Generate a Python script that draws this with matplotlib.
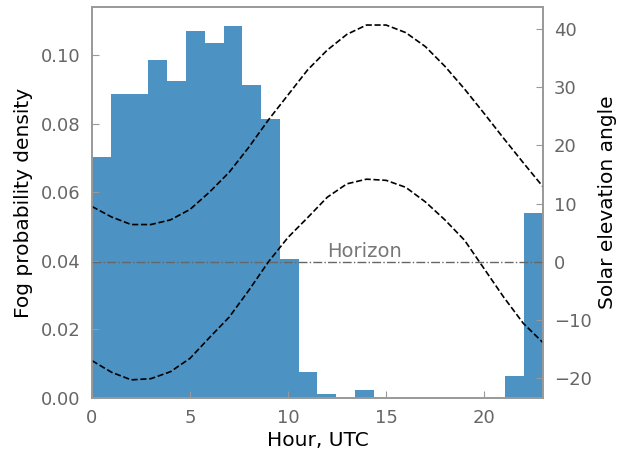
"""Fog probability density by hour, with solar elevation curves on a twin axis."""

import matplotlib

matplotlib.use("Agg")
import matplotlib.pyplot as plt
import numpy as np

# Histogram (density) over 24 equal bins spanning 0-23 h UTC
bin_edges = np.linspace(0, 23, 25)
fog_density = [
    0.0704, 0.0886, 0.0886, 0.0986, 0.0925, 0.1072, 0.1036, 0.1086,
    0.0912, 0.0814, 0.0406, 0.0074, 0.0011, 0.0000, 0.0023, 0.0000,
    0.0000, 0.0000, 0.0000, 0.0000, 0.0000, 0.0000, 0.0062, 0.0540,
]

# Solar elevation angle (degrees), hourly
hours = list(range(24))
elev_upper = [
    9.5, 7.7, 6.4, 6.4, 7.2, 9.0, 12.0, 15.4, 19.7, 24.4, 28.7, 33.0,
    36.4, 39.1, 40.7, 40.7, 39.4, 37.0, 33.6, 29.7, 25.5, 21.2, 17.0, 12.9,
]
elev_lower = [
    -17.0, -19.0, -20.3, -20.1, -18.9, -16.6, -13.0, -9.5, -4.9, 0.0, 4.2, 7.6,
    11.1, 13.4, 14.2, 14.0, 12.8, 10.3, 7.2, 3.7, -1.2, -6.1, -10.6, -13.9,
]

TICK_COLOR = "#666666"
SPINE_COLOR = "#999999"

fig = plt.figure(figsize=(6.19, 4.53), dpi=100)
ax = fig.add_axes([0.1486, 0.1223, 0.7286, 0.8616])

ax.bar(
    bin_edges[:-1],
    fog_density,
    width=np.diff(bin_edges),
    align="edge",
    color="#4c92c3",
    linewidth=0,
)
ax.set_xlim(0, 23)
ax.set_ylim(0, None)
ax.set_xlabel("Hour, UTC", fontsize=14.5, labelpad=3)
ax.set_ylabel("Fog probability density", fontsize=14.5, labelpad=6)
ax.set_yticks([0.0, 0.02, 0.04, 0.06, 0.08, 0.10])
ax.yaxis.set_major_formatter(matplotlib.ticker.FormatStrFormatter("%.2f"))

ax2 = ax.twinx()
ax2.plot(hours, elev_upper, "k--", linewidth=1.2)
ax2.plot(hours, elev_lower, "k--", linewidth=1.2)
ax2.axhline(0, color="#666666", linestyle="-.", linewidth=1.0)
ax2.text(12.0, 0.8, "Horizon", color="#777777", fontsize=14)
ax2.set_xlim(0, 23)
ax2.set_ylabel("Solar elevation angle", fontsize=14.5, labelpad=4)

for a in (ax, ax2):
    for spine in a.spines.values():
        spine.set_color(SPINE_COLOR)
        spine.set_linewidth(1.2)
    a.tick_params(
        direction="in",
        colors=SPINE_COLOR,
        labelcolor=TICK_COLOR,
        labelsize=13,
        length=5,
        pad=8,
    )
ax.tick_params(top=False, right=False)

fig.savefig("out.png", dpi=100)
